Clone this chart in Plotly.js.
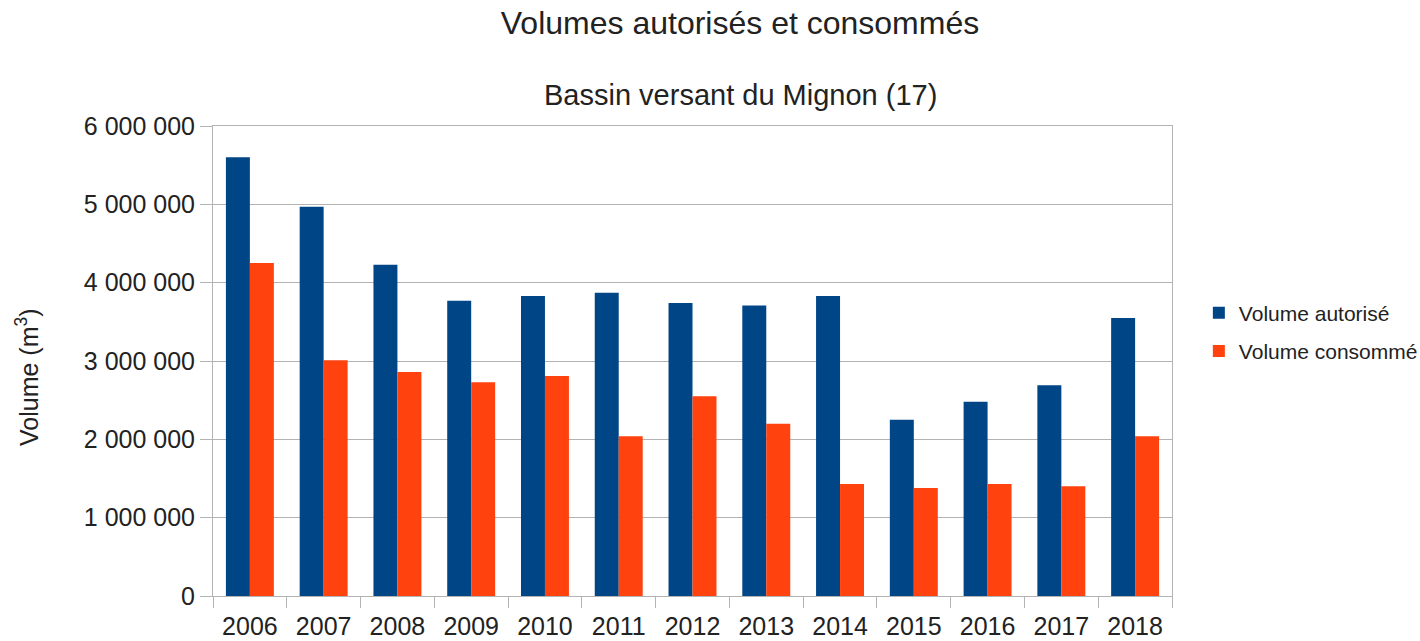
<!DOCTYPE html>
<html>
<head>
<meta charset="utf-8">
<script src="https://cdn.plot.ly/plotly-3.0.1.min.js"></script>
<style>
  body { margin: 0; background: #fff; }
  #chart { width: 1420px; height: 641px; }
</style>
</head>
<body>
<div id="chart"></div>
<script>
// Données
var annees = ['2006', '2007', '2008', '2009', '2010', '2011', '2012', '2013', '2014', '2015', '2016', '2017', '2018'];
var volumeAutorise = [5600000, 4970000, 4230000, 3770000, 3830000, 3870000, 3740000, 3710000, 3830000, 2250000, 2480000, 2690000, 3550000];
var volumeConsomme = [4250000, 3010000, 2860000, 2730000, 2810000, 2040000, 2550000, 2200000, 1430000, 1380000, 1430000, 1400000, 2040000];

var police = 'Liberation Sans, Arial, sans-serif';

var data = [
  {
    x: annees,
    y: volumeAutorise,
    name: 'Volume autorisé',
    legendgroup: 'a',
    type: 'bar',
    marker: { color: '#004586' }
  },
  {
    x: annees,
    y: volumeConsomme,
    name: 'Volume consommé',
    legendgroup: 'b',
    type: 'bar',
    marker: { color: '#ff420e' }
  }
];

var layout = {
  width: 1420,
  height: 641,
  margin: { l: 213, r: 248, t: 126, b: 45, autoexpand: false },
  paper_bgcolor: '#fff',
  plot_bgcolor: '#fff',
  font: { family: police, color: '#222' },
  separators: ', ',
  title: {
    text: 'Volumes autorisés et consommés',
    font: { family: police, size: 32, color: '#222' },
    xref: 'container',
    x: 740 / 1420,
    xanchor: 'center',
    y: 1 - 23 / 641,
    yanchor: 'middle'
  },
  annotations: [
    // sous-titre
    {
      text: 'Bassin versant du Mignon (17)',
      xref: 'paper', yref: 'paper',
      x: (740 - 213) / 959, y: 1,
      yshift: 31,
      xanchor: 'center', yanchor: 'middle',
      showarrow: false,
      font: { family: police, size: 29, color: '#222' }
    },
    // titre de l'axe Y
    {
      text: 'Volume (m<sup>3</sup>)',
      xref: 'paper', yref: 'paper',
      x: 0, y: (596 - 377) / 470,
      xshift: -186,
      xanchor: 'center', yanchor: 'middle',
      textangle: -90,
      showarrow: false,
      font: { family: police, size: 25, color: '#222' }
    }
  ],
  barmode: 'group',
  bargap: 0.35,
  bargroupgap: 0,
  xaxis: {
    type: 'category',
    showline: true,
    linecolor: '#b3b3b3',
    mirror: true,
    ticks: 'outside',
    tickson: 'boundaries',
    ticklen: 11,
    tickcolor: '#b3b3b3',
    ticklabelstandoff: 8,
    tickfont: { family: police, size: 25, color: '#222' },
    showgrid: false,
    fixedrange: true
  },
  yaxis: {
    range: [0, 6000000],
    dtick: 1000000,
    tickformat: ',d',
    showline: true,
    linecolor: '#b3b3b3',
    mirror: true,
    ticks: 'outside',
    ticklen: 12,
    tickcolor: '#b3b3b3',
    gridcolor: '#b3b3b3',
    tickfont: { family: police, size: 25, color: '#222' },
    zeroline: false
  },
  legend: {
    x: 1.028,
    xanchor: 'left',
    y: (596 - 332) / 470,
    yanchor: 'middle',
    traceorder: 'grouped',
    tracegroupgap: 8,
    itemwidth: 30,
    font: { family: police, size: 21, color: '#222' }
  },
  showlegend: true
};

Plotly.newPlot('chart', data, layout, { displayModeBar: false, staticPlot: true });
</script>
</body>
</html>
